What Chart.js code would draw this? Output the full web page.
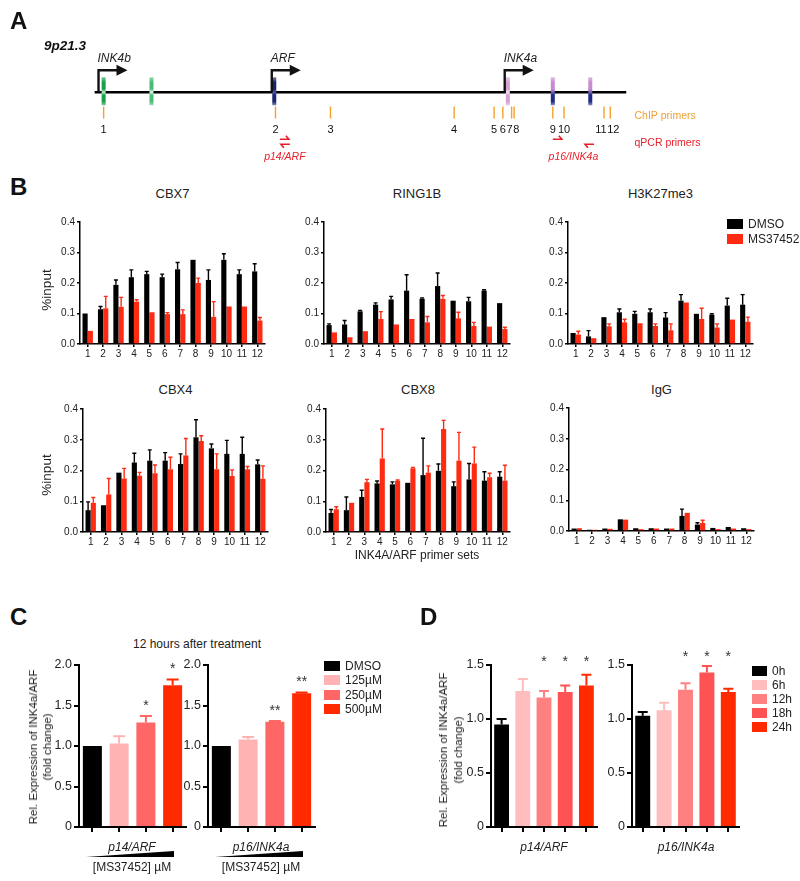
<!DOCTYPE html>
<html lang="en">
<head>
    <meta charset="UTF-8">
    <title>INK4A/ARF locus - ChIP and expression</title>
    <script src="https://cdn.jsdelivr.net/npm/chart.js"></script>
    <style>
        body {
            margin: 0;
            background: #fff;
            font-family: "Liberation Sans", Arial, sans-serif;
        }
        #page {
            position: relative;
            width: 800px;
            height: 881px;
            overflow: hidden;
            background: #fff;
        }
        #page canvas {
            position: absolute;
        }
        .txt {
            position: absolute;
            white-space: nowrap;
            color: #222;
        }
        .swatch {
            position: absolute;
        }
    </style>
</head>
<body>
<div id="page"></div>

<script>
    // ---- Panel A : 9p21.3 locus map (positions in kb from the left end) ----
    const locusLength = 42.6;
    const tssGenes = ['INK4b', 'ARF', 'INK4a'];
    const tssPos = [0.33, 14.2, 32.85];
    const exonNames = ['INK4b e1', 'INK4b e2', 'ARF e1β', 'INK4a e1α', 'e2', 'e3'];
    const exonPos = [0.74, 4.57, 14.4, 33.1, 36.7, 39.7];
    const chipPrimers = ['1', '2', '3', '4', '5', '6', '7', '8', '9', '10', '11', '12'];
    const chipPos = [0.74, 14.5, 18.9, 28.8, 32.0, 32.7, 33.4, 33.6, 36.7, 37.6, 40.8, 41.3];
    const qpcrNames = ['p14/ARF', 'p16/INK4a'];
    const qpcrFwd = [14.85, 36.7];
    const qpcrRev = [15.65, 40.0];

    // ---- Panel B : ChIP %input per primer set ----
    const primerSets = ['1', '2', '3', '4', '5', '6', '7', '8', '9', '10', '11', '12'];
    const treatments = ['DMSO', 'MS37452'];

    const cbx7Dmso = [0.100, 0.114, 0.194, 0.219, 0.229, 0.219, 0.245, 0.276, 0.210, 0.276, 0.229, 0.238];
    const cbx7DmsoErr = [0, 0.009, 0.016, 0.024, 0.009, 0.010, 0.022, 0, 0.033, 0.020, 0.014, 0.025];
    const cbx7Ms = [0.043, 0.117, 0.122, 0.139, 0.104, 0.098, 0.098, 0.200, 0.089, 0.123, 0.123, 0.077];
    const cbx7MsErr = [0, 0.039, 0.031, 0.006, 0, 0.005, 0.014, 0.016, 0.050, 0, 0, 0.010];

    const ring1bDmso = [0.062, 0.064, 0.107, 0.129, 0.146, 0.175, 0.148, 0.190, 0.142, 0.140, 0.175, 0.134];
    const ring1bDmsoErr = [0.004, 0.013, 0.003, 0.006, 0.010, 0.052, 0.003, 0.043, 0, 0.013, 0.003, 0];
    const ring1bMs = [0.038, 0.022, 0.042, 0.082, 0.064, 0.082, 0.071, 0.148, 0.084, 0.059, 0.057, 0.049];
    const ring1bMsErr = [0, 0, 0, 0.024, 0, 0, 0.019, 0.011, 0.020, 0.012, 0, 0.006];

    const h3k27Dmso = [0.036, 0.025, 0.088, 0.104, 0.099, 0.104, 0.087, 0.142, 0.099, 0.096, 0.126, 0.129];
    const h3k27DmsoErr = [0, 0.019, 0, 0.011, 0.008, 0.011, 0.016, 0.020, 0, 0.003, 0.024, 0.033];
    const h3k27Ms = [0.031, 0.019, 0.058, 0.071, 0.068, 0.059, 0.045, 0.136, 0.082, 0.054, 0.080, 0.073];
    const h3k27MsErr = [0.011, 0, 0.008, 0.010, 0, 0.007, 0.021, 0, 0.035, 0.012, 0, 0.015];

    const cbx4Dmso = [0.071, 0.087, 0.193, 0.226, 0.232, 0.232, 0.221, 0.308, 0.272, 0.254, 0.254, 0.220];
    const cbx4DmsoErr = [0.027, 0, 0, 0.030, 0.035, 0.026, 0.033, 0.057, 0.014, 0.044, 0.054, 0.014];
    const cbx4Ms = [0.095, 0.122, 0.174, 0.183, 0.191, 0.204, 0.249, 0.296, 0.204, 0.182, 0.204, 0.173];
    const cbx4MsErr = [0.017, 0.052, 0.033, 0.011, 0.027, 0.039, 0.055, 0.017, 0.050, 0.020, 0.009, 0.042];

    const cbx8Dmso = [0.062, 0.071, 0.114, 0.158, 0.155, 0.160, 0.185, 0.199, 0.149, 0.171, 0.167, 0.180];
    const cbx8DmsoErr = [0.011, 0.043, 0.022, 0.008, 0.008, 0, 0.120, 0.022, 0.014, 0.052, 0.029, 0.016];
    const cbx8Ms = [0.074, 0.095, 0.162, 0.239, 0.166, 0.207, 0.193, 0.335, 0.232, 0.223, 0.178, 0.167];
    const cbx8MsErr = [0.008, 0, 0.009, 0.096, 0.003, 0.003, 0.022, 0.028, 0.092, 0.053, 0.013, 0.050];

    const iggDmso = [0.008, 0.004, 0.008, 0.038, 0.009, 0.009, 0.008, 0.049, 0.021, 0.010, 0.013, 0.009];
    const iggDmsoErr = [0, 0, 0, 0, 0, 0, 0, 0.022, 0.006, 0, 0, 0];
    const iggMs = [0.009, 0.004, 0.007, 0.037, 0.006, 0.008, 0.008, 0.059, 0.026, 0.006, 0.008, 0.006];
    const iggMsErr = [0, 0, 0, 0, 0, 0, 0, 0, 0.009, 0, 0, 0];

    // ---- Panel C : dose response, 12 h ----
    const doseLabels = ['DMSO', '125µM', '250µM', '500µM'];
    const doseP14 = [1.00, 1.03, 1.29, 1.75];
    const doseP14Err = [0, 0.09, 0.08, 0.07];
    const doseP14Sig = ['', '', '*', '*'];
    const doseP16 = [1.00, 1.08, 1.30, 1.65];
    const doseP16Err = [0, 0.03, 0.01, 0.01];
    const doseP16Sig = ['', '', '**', '**'];

    // ---- Panel D : time course ----
    const timeLabels = ['0h', '6h', '12h', '18h', '24h'];
    const timeP14 = [0.95, 1.26, 1.20, 1.25, 1.31];
    const timeP14Err = [0.05, 0.11, 0.06, 0.06, 0.10];
    const timeP14Sig = ['', '', '*', '*', '*'];
    const timeP16 = [1.03, 1.08, 1.27, 1.43, 1.25];
    const timeP16Err = [0.035, 0.07, 0.06, 0.06, 0.03];
    const timeP16Sig = ['', '', '*', '*', '*'];

    // ------------------------------------------------------------------
    const FONT = '"Liberation Sans", Arial, sans-serif';
    Chart.defaults.font.family = FONT;
    Chart.defaults.color = '#222';
    const RED = '#ff2a12';
    const doseColors = ['#000000', '#ffb3b3', '#ff6666', '#ff2a00'];
    const timeColors = ['#000000', '#ffbdbd', '#ff8080', '#ff5252', '#ff2a00'];

    const page = document.getElementById('page');

    function addText(txt, x, y, o = {}) {
        const d = document.createElement('div');
        d.className = 'txt';
        d.textContent = txt;
        const size = o.size || 12;
        d.style.fontSize = size + 'px';
        d.style.lineHeight = (o.lh || size) + 'px';
        if (o.bold) d.style.fontWeight = 'bold';
        if (o.italic) d.style.fontStyle = 'italic';
        if (o.color) d.style.color = o.color;
        if (o.multi) { d.style.whiteSpace = 'pre'; d.style.textAlign = 'center'; }
        d.style.left = x + 'px';
        d.style.top = y + 'px';
        const ax = o.align === 'left' ? '0' : (o.align === 'right' ? '-100%' : '-50%');
        d.style.transform = 'translate(' + ax + ', -50%)' + (o.rotate ? ' rotate(' + o.rotate + 'deg)' : '');
        page.appendChild(d);
        return d;
    }

    function addLegend(names, colors, x, y0, step, sw, sh, size) {
        names.forEach((n, i) => {
            const s = document.createElement('div');
            s.className = 'swatch';
            s.style.left = x + 'px';
            s.style.top = (y0 + i * step - sh / 2) + 'px';
            s.style.width = sw + 'px';
            s.style.height = sh + 'px';
            s.style.background = colors[i];
            page.appendChild(s);
            addText(n, x + sw + 5, y0 + i * step, {size: size, align: 'left'});
        });
    }

    function makeCanvas(left, top, w, h) {
        const cv = document.createElement('canvas');
        cv.width = w;
        cv.height = h;
        cv.style.left = left + 'px';
        cv.style.top = top + 'px';
        page.appendChild(cv);
        return cv;
    }

    // upper error bars in the bar colour
    const errorBars = {
        id: 'errorBars',
        afterDatasetsDraw(chart, args, opts) {
            const ctx = chart.ctx;
            const yScale = chart.scales.y;
            chart.data.datasets.forEach((ds, di) => {
                if (!ds.errors) return;
                chart.getDatasetMeta(di).data.forEach((bar, i) => {
                    const e = ds.errors[i];
                    if (!e) return;
                    const col = Array.isArray(ds.backgroundColor) ? ds.backgroundColor[i] : ds.backgroundColor;
                    const yTop = yScale.getPixelForValue(ds.data[i] + e);
                    ctx.save();
                    ctx.strokeStyle = col;
                    ctx.lineWidth = opts.lineWidth || 1.5;
                    ctx.beginPath();
                    ctx.moveTo(bar.x, bar.y);
                    ctx.lineTo(bar.x, yTop);
                    ctx.moveTo(bar.x - (opts.cap || 4) / 2, yTop);
                    ctx.lineTo(bar.x + (opts.cap || 4) / 2, yTop);
                    ctx.stroke();
                    ctx.restore();
                });
            });
        }
    };

    // significance asterisks
    const starMarks = {
        id: 'starMarks',
        afterDatasetsDraw(chart, args, opts) {
            const ds = chart.data.datasets[0];
            if (!ds.stars) return;
            const ctx = chart.ctx;
            const yScale = chart.scales.y;
            ctx.save();
            ctx.font = '14px ' + FONT;
            ctx.fillStyle = '#333';
            ctx.textAlign = 'center';
            ctx.textBaseline = 'middle';
            chart.getDatasetMeta(0).data.forEach((bar, i) => {
                const s = ds.stars[i];
                if (!s) return;
                const yy = opts.level != null
                    ? yScale.getPixelForValue(opts.level)
                    : yScale.getPixelForValue(ds.data[i] + (ds.errors[i] || 0)) - opts.gap;
                ctx.fillText(s, bar.x, yy + 3);
            });
            ctx.restore();
        }
    };

    // increasing-dose wedge under the axis
    const doseWedge = {
        id: 'doseWedge',
        afterDraw(chart, args, opts) {
            if (!opts.show) return;
            const a = chart.chartArea;
            const ctx = chart.ctx;
            const x0 = a.left + 7, x1 = a.right - 12, yb = a.bottom + 30;
            ctx.save();
            ctx.fillStyle = '#000';
            ctx.beginPath();
            ctx.moveTo(x0, yb);
            ctx.lineTo(x1, yb);
            ctx.lineTo(x1, yb - 6);
            ctx.closePath();
            ctx.fill();
            ctx.restore();
        }
    };

    // bar chart whose plot area sits at box (page pixels)
    function barChart(box, pad, cfg) {
        const cv = makeCanvas(box.x - pad.l, box.y - pad.t, box.w + pad.l + pad.r, box.h + pad.t + pad.b);
        return new Chart(cv, {
            type: 'bar',
            data: {labels: cfg.labels, datasets: cfg.datasets},
            options: {
                responsive: false,
                animation: false,
                devicePixelRatio: 1,
                layout: {padding: {left: 0, top: pad.t, right: pad.r, bottom: 0}},
                plugins: {
                    legend: {display: false},
                    tooltip: {enabled: false},
                    errorBars: cfg.err,
                    starMarks: cfg.star || {},
                    doseWedge: {show: !!cfg.wedge}
                },
                scales: {
                    x: {
                        grid: {display: true, drawOnChartArea: false, offset: false, color: '#000',
                            lineWidth: cfg.axisW, tickLength: cfg.xTick},
                        border: {color: '#000', width: cfg.axisW},
                        ticks: {display: cfg.xLabels, font: {size: cfg.tickSize}, padding: 1,
                            maxRotation: 0, autoSkip: false, color: '#222'},
                        afterFit: s => { s.height = pad.b; }
                    },
                    y: {
                        min: 0,
                        max: cfg.yMax,
                        grid: {display: true, drawOnChartArea: false, color: '#000',
                            lineWidth: cfg.axisW, tickLength: cfg.yTick},
                        border: {color: '#000', width: cfg.axisW},
                        ticks: {stepSize: cfg.step, font: {size: cfg.tickSize}, padding: 2, color: '#222',
                            callback: cfg.fmt},
                        afterFit: s => { s.width = pad.l; }
                    }
                }
            },
            plugins: [errorBars, starMarks, doseWedge]
        });
    }

    // ---------------- Panel A ----------------
    const exonStyle = [
        ['#17a04c', '#c8ecd4', '#17a04c'],
        ['#4cbb76', '#e2f4e8', '#4cbb76'],
        ['#1a2570', '#4b5aa8', '#1a2570'],
        ['#d6a0d3', '#f4e2f2', '#d6a0d3'],
        ['#c98bd0', '#6e62b2', '#1f2b85'],
        ['#c98bd0', '#6e62b2', '#1f2b85']
    ];

    const locusMap = {
        id: 'locusMap',
        afterDatasetsDraw(chart) {
            const ctx = chart.ctx;
            const xs = chart.scales.x, ys = chart.scales.y;
            const area = chart.chartArea;
            const base = ys.getPixelForValue(0);
            ctx.save();
            // exons
            exonPos.forEach((p, i) => {
                const x = xs.getPixelForValue(p);
                const top = base - 15, h = 28, w = 4;
                const c = exonStyle[i];
                const g = ctx.createLinearGradient(0, top, 0, top + h);
                g.addColorStop(0, c[0] + '99');
                g.addColorStop(0.18, c[0]);
                g.addColorStop(0.42, c[0]);
                g.addColorStop(0.53, c[1]);
                g.addColorStop(0.64, c[2]);
                g.addColorStop(0.86, c[2]);
                g.addColorStop(1, c[2] + '88');
                ctx.fillStyle = g;
                ctx.fillRect(x - w / 2, top, w, h);
            });
            // transcription start arrows
            tssPos.forEach((p, i) => {
                const x = xs.getPixelForValue(p);
                const yTop = base - 22;
                ctx.strokeStyle = '#111';
                ctx.fillStyle = '#111';
                ctx.lineWidth = 2.4;
                ctx.lineJoin = 'miter';
                ctx.beginPath();
                ctx.moveTo(x, base);
                ctx.lineTo(x, yTop);
                ctx.lineTo(x + 19, yTop);
                ctx.stroke();
                ctx.beginPath();
                ctx.moveTo(x + 18, yTop - 5.5);
                ctx.lineTo(x + 29, yTop);
                ctx.lineTo(x + 18, yTop + 5.5);
                ctx.closePath();
                ctx.fill();
                ctx.font = 'italic 12px ' + FONT;
                ctx.textAlign = 'left';
                ctx.textBaseline = 'alphabetic';
                ctx.fillStyle = '#222';
                ctx.fillText(tssGenes[i], x - 1, yTop - 8);
            });
            // ChIP primer numbers, spread so they do not collide
            ctx.font = '11px ' + FONT;
            ctx.textAlign = 'center';
            const lx = chipPos.map(p => xs.getPixelForValue(p));
            const lw = chipPrimers.map(t => ctx.measureText(t).width);
            for (let it = 0; it < 30; it++) {
                for (let i = 0; i < lx.length - 1; i++) {
                    const need = (lw[i] + lw[i + 1]) / 2 + 0.6;
                    const gap = lx[i + 1] - lx[i];
                    if (gap < need) {
                        lx[i] -= (need - gap) / 2;
                        lx[i + 1] += (need - gap) / 2;
                    }
                }
            }
            ctx.fillStyle = '#111';
            chipPrimers.forEach((t, i) => ctx.fillText(t, lx[i], base + 41));
            // qPCR primer half arrows
            ctx.strokeStyle = '#e8202a';
            ctx.fillStyle = '#e8202a';
            ctx.lineWidth = 1.6;
            qpcrNames.forEach((n, i) => {
                const xf = xs.getPixelForValue(qpcrFwd[i]);
                const xr = xs.getPixelForValue(qpcrRev[i]);
                const yf = base + 47, yr = base + 52;
                ctx.beginPath();
                ctx.moveTo(xf, yf);
                ctx.lineTo(xf + 9, yf);
                ctx.lineTo(xf + 6, yf - 3.5);
                ctx.moveTo(xr, yr);
                ctx.lineTo(xr - 9, yr);
                ctx.lineTo(xr - 6, yr + 3.5);
                ctx.stroke();
                ctx.font = 'italic 10.5px ' + FONT;
                ctx.textAlign = 'center';
                ctx.fillText(n, (xf + xr) / 2, base + 68);
            });
            // side captions
            ctx.textAlign = 'left';
            ctx.font = '10.5px ' + FONT;
            ctx.fillStyle = '#f0a030';
            ctx.fillText('ChIP primers', area.right + 8, base + 27);
            ctx.fillStyle = '#e8202a';
            ctx.fillText('qPCR primers', area.right + 8, base + 54);
            ctx.restore();
        }
    };

    const cvA = makeCanvas(0, 0, 800, 170);
    new Chart(cvA, {
        type: 'scatter',
        data: {
            datasets: [
                {type: 'line', data: [{x: 0, y: 0}, {x: locusLength, y: 0}], borderColor: '#000',
                    borderWidth: 2.6, pointRadius: 0},
                {data: chipPos.map(p => ({x: p, y: -2.2})), pointStyle: 'line', rotation: 90,
                    pointRadius: 6, borderColor: '#f5a12a', pointBorderWidth: 1.4}
            ]
        },
        options: {
            responsive: false,
            animation: false,
            devicePixelRatio: 1,
            layout: {padding: {left: 94.4, right: 173.5, top: 0, bottom: 0}},
            plugins: {legend: {display: false}, tooltip: {enabled: false}},
            scales: {
                x: {type: 'linear', min: 0, max: locusLength, display: false},
                y: {min: -7.7, max: 9.3, display: false}
            }
        },
        plugins: [locusMap]
    });

    addText('A', 10, 21, {size: 24, bold: true, align: 'left', color: '#111'});
    addText('9p21.3', 44, 46, {size: 13.5, bold: true, italic: true, align: 'left', color: '#111'});

    // ---------------- Panel B ----------------
    addText('B', 10, 187, {size: 24, bold: true, align: 'left', color: '#111'});
    const bPanels = [
        {title: 'CBX7', d: cbx7Dmso, de: cbx7DmsoErr, m: cbx7Ms, me: cbx7MsErr, box: {x: 80, y: 222, w: 185, h: 122}, ty: 193},
        {title: 'RING1B', d: ring1bDmso, de: ring1bDmsoErr, m: ring1bMs, me: ring1bMsErr, box: {x: 324, y: 222, w: 186, h: 122}, ty: 193},
        {title: 'H3K27me3', d: h3k27Dmso, de: h3k27DmsoErr, m: h3k27Ms, me: h3k27MsErr, box: {x: 568, y: 222, w: 185, h: 122}, ty: 193},
        {title: 'CBX4', d: cbx4Dmso, de: cbx4DmsoErr, m: cbx4Ms, me: cbx4MsErr, box: {x: 83, y: 409, w: 185, h: 123}, ty: 389},
        {title: 'CBX8', d: cbx8Dmso, de: cbx8DmsoErr, m: cbx8Ms, me: cbx8MsErr, box: {x: 326, y: 409, w: 184, h: 123}, ty: 389},
        {title: 'IgG', d: iggDmso, de: iggDmsoErr, m: iggMs, me: iggMsErr, box: {x: 569, y: 408, w: 185, h: 123}, ty: 389}
    ];
    bPanels.forEach(p => {
        barChart(p.box, {l: 40, t: 10, r: 4, b: 22}, {
            labels: primerSets,
            datasets: [
                {label: treatments[0], data: p.d, errors: p.de, backgroundColor: '#000',
                    categoryPercentage: 0.68, barPercentage: 0.98},
                {label: treatments[1], data: p.m, errors: p.me, backgroundColor: RED,
                    categoryPercentage: 0.68, barPercentage: 0.98}
            ],
            yMax: 0.4, step: 0.1, fmt: v => v.toFixed(1),
            tickSize: 10, axisW: 1.5, xTick: 3, yTick: 3, xLabels: true,
            err: {cap: 4, lineWidth: 1.4}
        });
        addText(p.title, p.box.x + p.box.w / 2, p.ty, {size: 13});
    });
    addText('%input', 47, 290, {size: 13.5, rotate: -90});
    addText('%input', 47, 475, {size: 13.5, rotate: -90});
    addText('INK4A/ARF primer sets', 417, 555, {size: 12});
    addLegend(treatments, ['#000', RED], 727, 224, 14.5, 16, 10, 12);

    // ---------------- Panel C ----------------
    addText('C', 10, 617, {size: 24, bold: true, align: 'left', color: '#111'});
    addText('12 hours after treatment', 197, 644, {size: 12});
    const fmt2 = v => (v === 0 ? '0' : v.toFixed(1));
    barChart({x: 79, y: 665, w: 107, h: 162}, {l: 45, t: 20, r: 4, b: 50}, {
        labels: doseLabels,
        datasets: [{label: 'p14/ARF', data: doseP14, errors: doseP14Err, stars: doseP14Sig,
            backgroundColor: doseColors, categoryPercentage: 1, barPercentage: 0.71}],
        yMax: 2.0, step: 0.5, fmt: fmt2, tickSize: 12.5, axisW: 2, xTick: 5, yTick: 5, xLabels: false,
        err: {cap: 12, lineWidth: 2}, star: {gap: 13}, wedge: true
    });
    barChart({x: 208, y: 665, w: 107, h: 162}, {l: 45, t: 20, r: 4, b: 50}, {
        labels: doseLabels,
        datasets: [{label: 'p16/INK4a', data: doseP16, errors: doseP16Err, stars: doseP16Sig,
            backgroundColor: doseColors, categoryPercentage: 1, barPercentage: 0.71}],
        yMax: 2.0, step: 0.5, fmt: fmt2, tickSize: 12.5, axisW: 2, xTick: 5, yTick: 5, xLabels: false,
        err: {cap: 12, lineWidth: 2}, star: {gap: 13}, wedge: true
    });
    addText('Rel. Expression of INK4a/ARF\n(fold change)', 40, 747, {size: 11.5, lh: 14, multi: true, rotate: -90});
    addText('p14/ARF', 132, 847, {size: 12, italic: true});
    addText('[MS37452] µM', 132, 867, {size: 12});
    addText('p16/INK4a', 261, 847, {size: 12, italic: true});
    addText('[MS37452] µM', 261, 867, {size: 12});
    addLegend(doseLabels, doseColors, 324, 666, 14.4, 16, 10, 12);

    // ---------------- Panel D ----------------
    addText('D', 420, 617, {size: 24, bold: true, align: 'left', color: '#111'});
    barChart({x: 491, y: 665, w: 106, h: 162}, {l: 45, t: 20, r: 4, b: 20}, {
        labels: timeLabels,
        datasets: [{label: 'p14/ARF', data: timeP14, errors: timeP14Err, stars: timeP14Sig,
            backgroundColor: timeColors, categoryPercentage: 1, barPercentage: 0.7}],
        yMax: 1.5, step: 0.5, fmt: fmt2, tickSize: 12.5, axisW: 2, xTick: 5, yTick: 5, xLabels: false,
        err: {cap: 10, lineWidth: 2}, star: {level: 1.555}
    });
    barChart({x: 632, y: 665, w: 107, h: 162}, {l: 45, t: 20, r: 4, b: 20}, {
        labels: timeLabels,
        datasets: [{label: 'p16/INK4a', data: timeP16, errors: timeP16Err, stars: timeP16Sig,
            backgroundColor: timeColors, categoryPercentage: 1, barPercentage: 0.7}],
        yMax: 1.5, step: 0.5, fmt: fmt2, tickSize: 12.5, axisW: 2, xTick: 5, yTick: 5, xLabels: false,
        err: {cap: 10, lineWidth: 2}, star: {level: 1.60}
    });
    addText('Rel. Expression of INK4a/ARF\n(fold change)', 451, 750, {size: 11.5, lh: 15, multi: true, rotate: -90});
    addText('p14/ARF', 544, 847, {size: 12, italic: true});
    addText('p16/INK4a', 686, 847, {size: 12, italic: true});
    addLegend(timeLabels, timeColors, 752, 671, 14, 15, 10, 12);
</script>
</body>
</html>
